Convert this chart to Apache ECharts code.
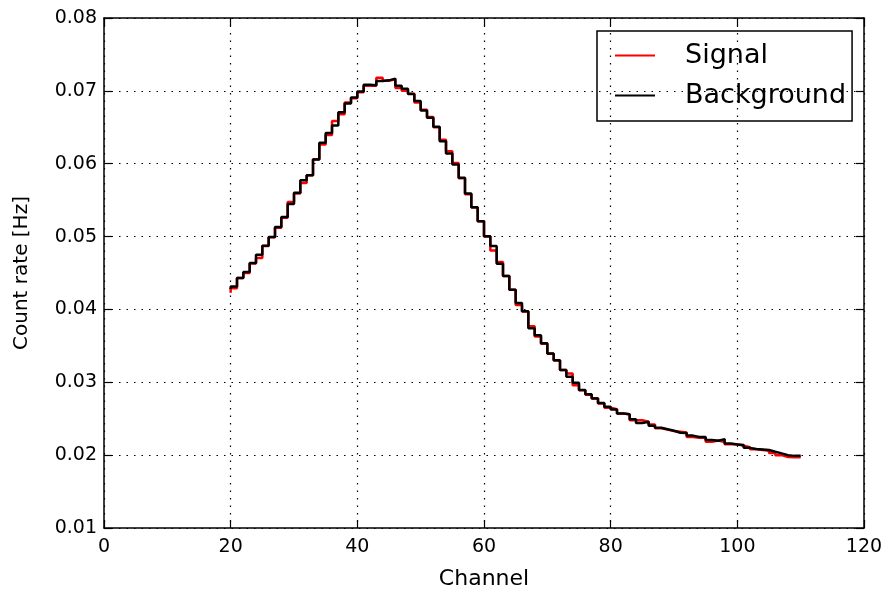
<!DOCTYPE html>
<html>
<head>
<meta charset="utf-8">
<script src="https://cdn.jsdelivr.net/npm/echarts@6/dist/echarts.min.js"></script>
<style>
  html, body { margin: 0; padding: 0; background: #ffffff; }
  #chart { width: 895px; height: 597px; }
</style>
</head>
<body>
<div id="chart"></div>
<script>
// Channel numbers of the histogram steps
const channels = [
  20, 21, 22, 23, 24, 25, 26, 27, 28, 29,
  30, 31, 32, 33, 34, 35, 36, 37, 38, 39,
  40, 41, 42, 43, 44, 45, 46, 47, 48, 49,
  50, 51, 52, 53, 54, 55, 56, 57, 58, 59,
  60, 61, 62, 63, 64, 65, 66, 67, 68, 69,
  70, 71, 72, 73, 74, 75, 76, 77, 78, 79,
  80, 81, 82, 83, 84, 85, 86, 87, 88, 89,
  90, 91, 92, 93, 94, 95, 96, 97, 98, 99,
  100, 101, 102, 103, 104, 105, 106, 107, 108, 109, 110
];

// Count rate [Hz], signal run
const signalRate = [
  0.0423, 0.0429, 0.0443, 0.0450, 0.0463, 0.04706, 0.0487, 0.0499, 0.0512, 0.0526,
  0.05476, 0.0559, 0.05737, 0.0584, 0.0606, 0.06264, 0.06395, 0.06585, 0.0668, 0.0684,
  0.0690, 0.0698, 0.0707, 0.0707, 0.0718, 0.0714, 0.0716, 0.0704, 0.0700, 0.0696,
  0.0684, 0.0674, 0.0664, 0.0650, 0.0633, 0.0617, 0.0601, 0.0580, 0.0558, 0.0540,
  0.0521, 0.0500, 0.0481, 0.0465, 0.0446, 0.0427, 0.0406, 0.0397, 0.0377, 0.0363,
  0.0353, 0.0339, 0.0330, 0.0317, 0.0312, 0.0296, 0.0289, 0.0283, 0.0278, 0.0271,
  0.0265, 0.0263, 0.0257, 0.0256, 0.0248, 0.0248, 0.0246, 0.0242, 0.0237, 0.0235,
  0.0233, 0.0232, 0.0231, 0.0225, 0.0224, 0.0224, 0.02183, 0.0220, 0.0218, 0.0215,
  0.0215, 0.0213, 0.0211, 0.0208, 0.0207, 0.0206, 0.0203, 0.0200, 0.01975, 0.0197, 0.0197
];

// Count rate [Hz], background run
const backgroundRate = [
  0.0428, 0.04315, 0.0443, 0.04513, 0.04637, 0.04751, 0.04875, 0.04994, 0.05132, 0.0527,
  0.05448, 0.0560, 0.05773, 0.05842, 0.06058, 0.06287, 0.0642, 0.06525, 0.06705, 0.06825,
  0.0691, 0.0699, 0.07085, 0.07076, 0.07135, 0.07144, 0.07168, 0.0707, 0.0703, 0.06958,
  0.0686, 0.0673, 0.06631, 0.06508, 0.0631, 0.0614, 0.05989, 0.05806, 0.0559, 0.05402,
  0.05209, 0.05003, 0.0487, 0.04627, 0.04458, 0.0427, 0.04087, 0.03975, 0.03743, 0.03645,
  0.03537, 0.03395, 0.03302, 0.03169, 0.03077, 0.02995, 0.02894, 0.02835, 0.02778, 0.02715,
  0.02663, 0.02627, 0.0257, 0.02562, 0.02493, 0.0244, 0.02458, 0.02405, 0.02376, 0.02355,
  0.02335, 0.02308, 0.02303, 0.02268, 0.0225, 0.0225, 0.02207, 0.02197, 0.0222, 0.02161,
  0.02147, 0.02138, 0.021, 0.02083, 0.02078, 0.0207, 0.02046, 0.02024, 0.02, 0.0199, 0.0199
];

// Axis ranges and tick steps
const xRange = [0, 120], xStep = 20;
const yRange = [0.01, 0.08], yStep = 0.01;

const FONT = 'DejaVu Sans';

function pairs(xs, ys) {
  return xs.map((x, i) => [x, ys[i]]);
}

const tickInside = { show: true, inside: true, length: 8, lineStyle: { color: '#000', width: 1.2 } };
const frame = { show: true, onZero: false, lineStyle: { color: '#000', width: 1.5 } };
const gridDots = { show: true, lineStyle: { color: '#000', width: 1.2, type: [1.5, 6] } };

const chart = echarts.init(document.getElementById('chart'), null, { renderer: 'canvas' });

chart.setOption({
  animation: false,
  backgroundColor: '#ffffff',
  grid: { left: 104, right: 31, top: 18, bottom: 69, containLabel: false },
  legend: {
    data: ['Signal', 'Background'],
    orient: 'vertical',
    left: 597,
    top: 31,
    padding: [11, 6, 12, 18],
    itemGap: 13,
    itemWidth: 40,
    itemHeight: 2,
    icon: 'rect',
    borderColor: '#000',
    borderWidth: 1.5,
    borderRadius: 0,
    textStyle: { fontFamily: FONT, fontSize: 27, color: '#000', padding: [0, 0, 0, 25] }
  },
  xAxis: [
    {
      type: 'value', min: xRange[0], max: xRange[1], interval: xStep,
      name: 'Channel', nameLocation: 'middle', nameGap: 40,
      nameTextStyle: { fontFamily: FONT, fontSize: 22, color: '#000' },
      axisLine: frame, axisTick: tickInside,
      axisLabel: { fontFamily: FONT, fontSize: 19, color: '#000', margin: 10 },
      splitLine: gridDots
    },
    {
      type: 'value', position: 'top', min: xRange[0], max: xRange[1], interval: xStep,
      axisLine: frame, axisTick: tickInside, axisLabel: { show: false }, splitLine: { show: false }
    }
  ],
  yAxis: [
    {
      type: 'value', min: yRange[0], max: yRange[1], interval: yStep,
      name: 'Count rate [Hz]', nameLocation: 'middle', nameGap: 72,
      nameTextStyle: { fontFamily: FONT, fontSize: 20, color: '#000' },
      axisLine: frame, axisTick: tickInside,
      axisLabel: { fontFamily: FONT, fontSize: 19, color: '#000', margin: 7,
                   formatter: v => v.toFixed(2) },
      splitLine: gridDots
    },
    {
      type: 'value', position: 'right', min: yRange[0], max: yRange[1], interval: yStep,
      axisLine: frame, axisTick: tickInside, axisLabel: { show: false }, splitLine: { show: false }
    }
  ],
  series: [
    {
      name: 'Signal', type: 'line', step: 'start',
      data: pairs(channels, signalRate),
      showSymbol: false, color: '#ff0000',
      lineStyle: { color: '#ff0000', width: 2.5 },
      z: 2
    },
    {
      name: 'Background', type: 'line', step: 'start',
      data: pairs(channels, backgroundRate),
      showSymbol: false, color: '#000000',
      lineStyle: { color: '#000000', width: 2.5 },
      z: 3
    }
  ]
});
</script>
</body>
</html>
